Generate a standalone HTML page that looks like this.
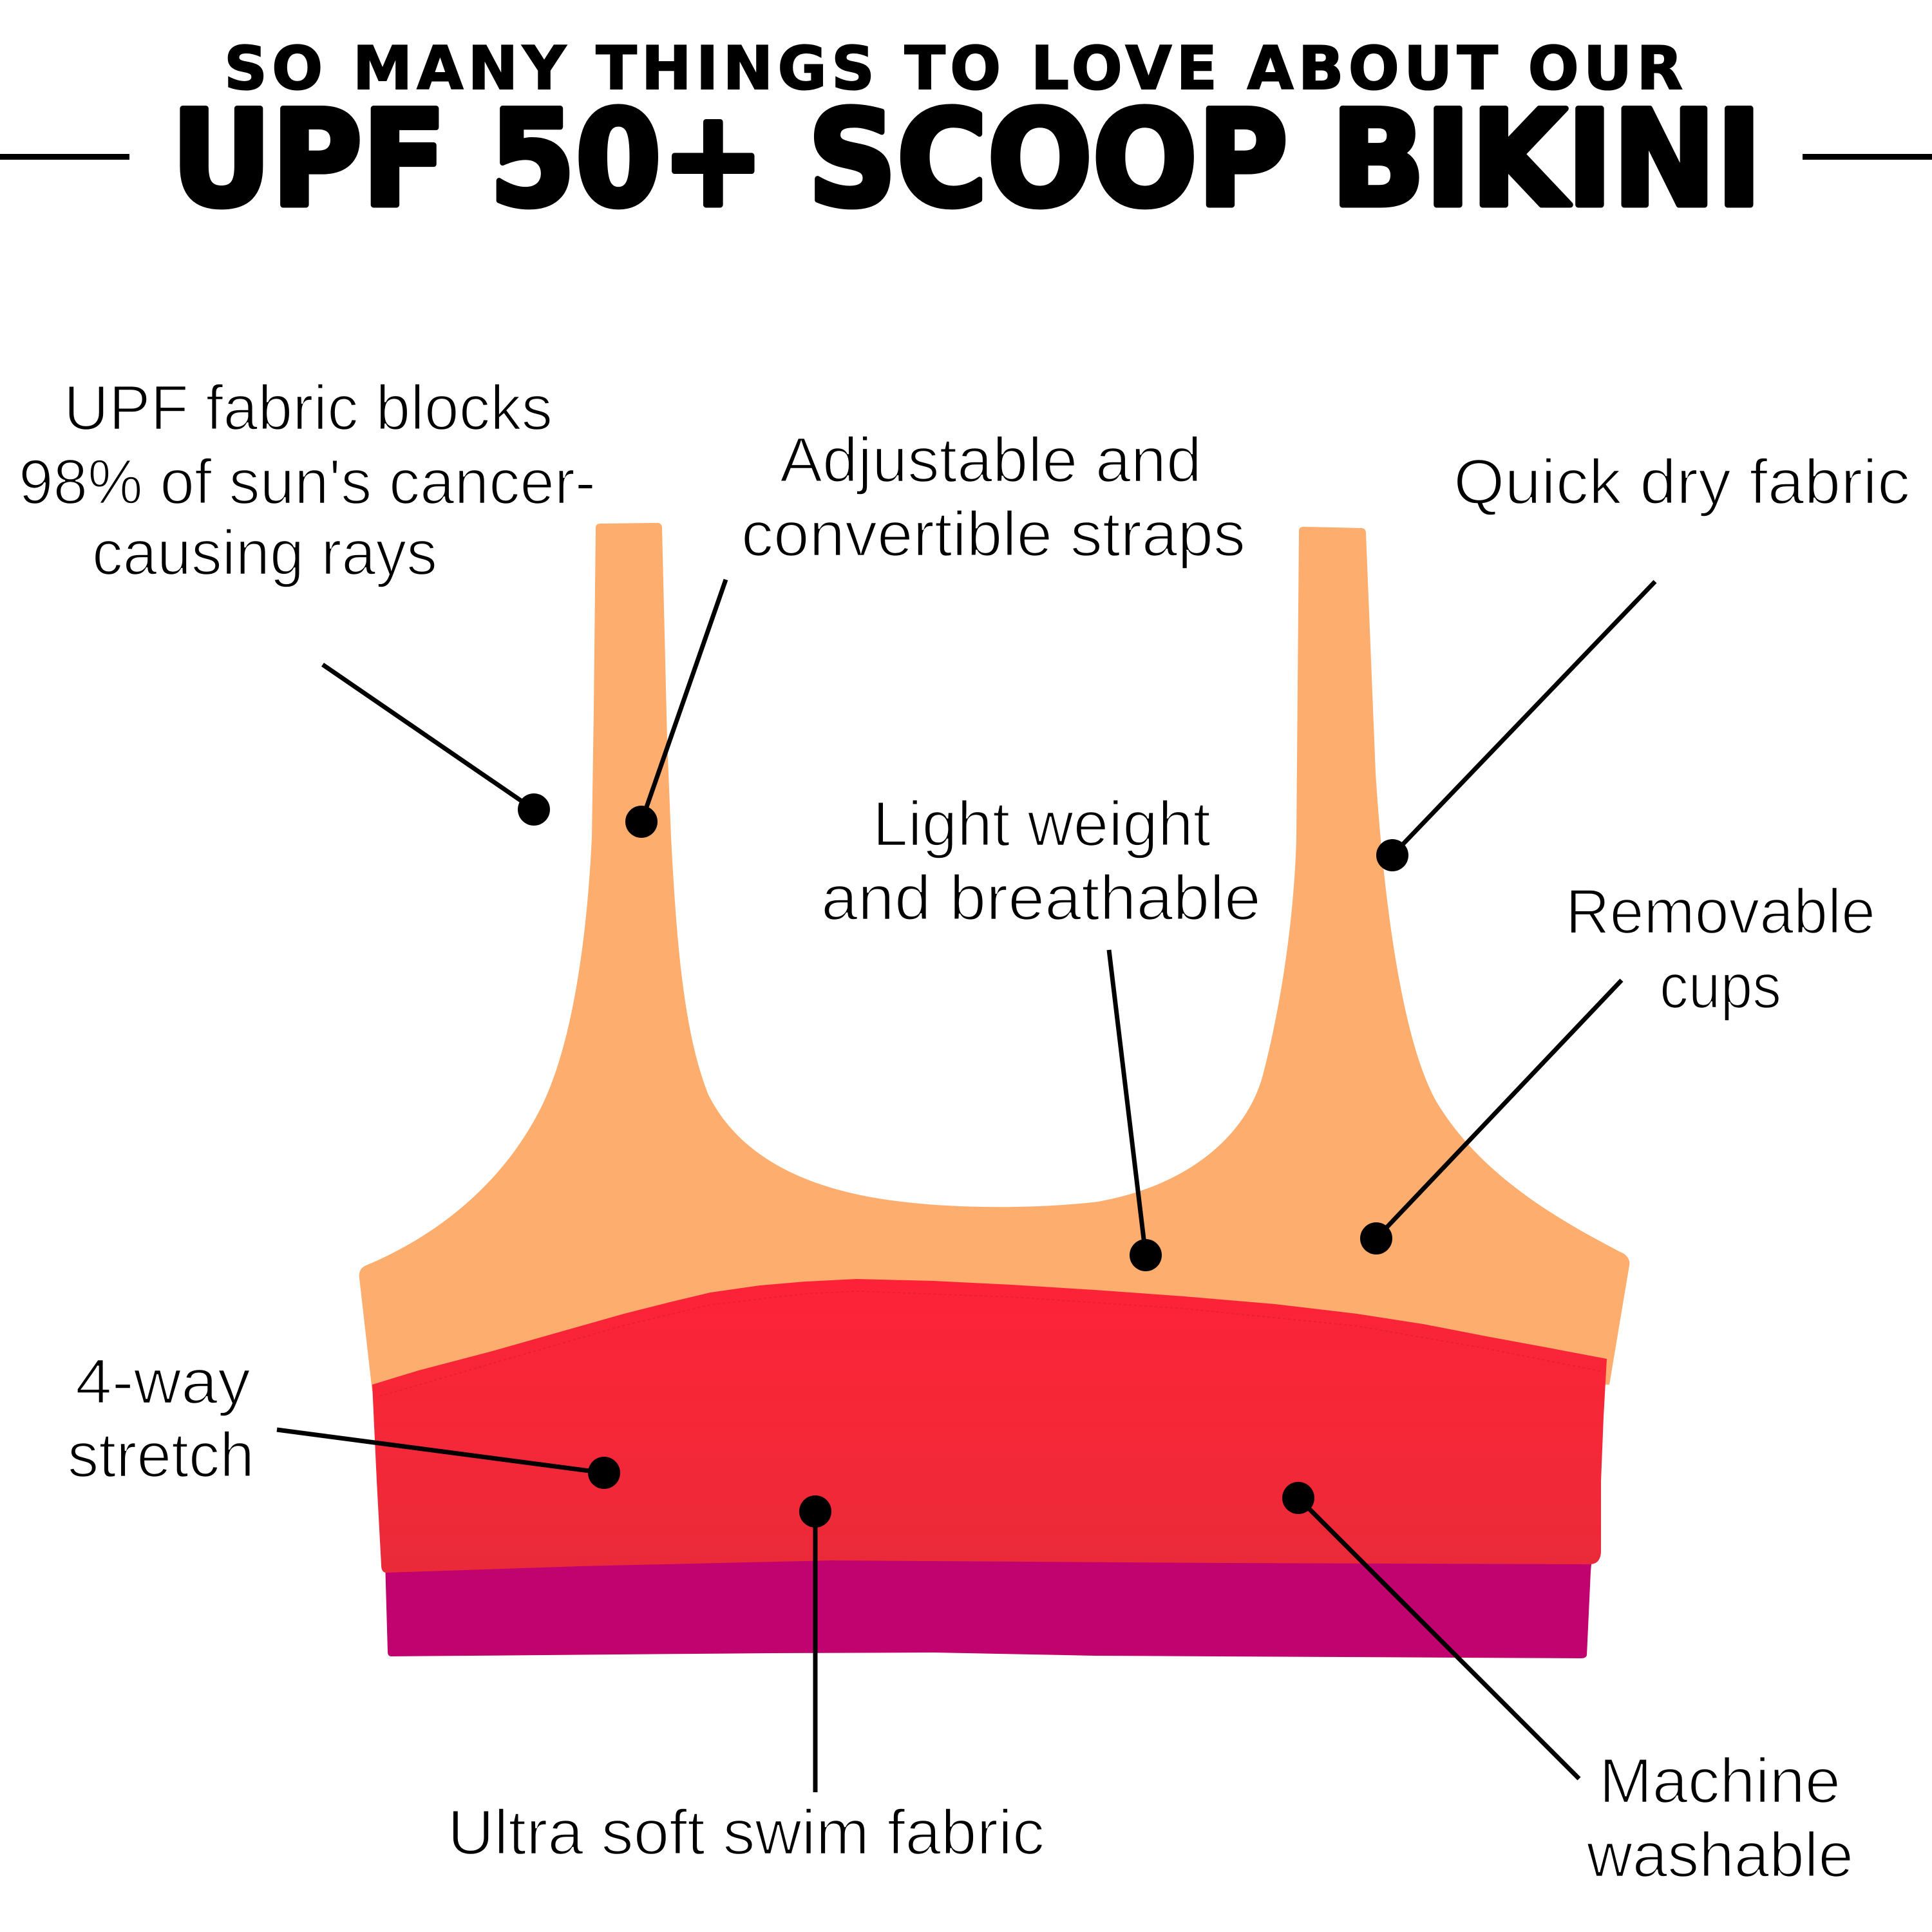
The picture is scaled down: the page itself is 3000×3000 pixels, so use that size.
<!DOCTYPE html>
<html>
<head>
<meta charset="utf-8">
<style>
  html,body{margin:0;padding:0;background:#fff;}
  svg{display:block;}
  .lbl{font-family:"Liberation Sans","DejaVu Sans",sans-serif;font-size:98px;fill:#000;stroke:#fff;stroke-width:2.5px;}
  .t1{font-family:"DejaVu Sans","Liberation Sans",sans-serif;font-weight:bold;font-size:93px;fill:#000;stroke:#000;stroke-width:2px;}
  .t2{font-family:"DejaVu Sans","Liberation Sans",sans-serif;font-weight:bold;font-size:205px;fill:#000;stroke:#000;stroke-width:9px;stroke-linejoin:round;}
</style>
</head>
<body>
<svg width="3000" height="3000" viewBox="0 0 3000 3000" xmlns="http://www.w3.org/2000/svg">
  <defs>
    <linearGradient id="redg" x1="0" y1="1990" x2="0" y2="2440" gradientUnits="userSpaceOnUse">
      <stop offset="0" stop-color="#FD2238"/>
      <stop offset="0.45" stop-color="#F62737"/>
      <stop offset="1" stop-color="#EA2A39"/>
    </linearGradient>
  </defs>
  <rect x="0" y="0" width="3000" height="3000" fill="#fff"/>

  <!-- Title -->
  <text class="t1" x="348" y="138" textLength="2265" lengthAdjust="spacing">SO MANY THINGS TO LOVE ABOUT OUR</text>
  <text class="t2" x="266" y="318" textLength="2470" lengthAdjust="spacingAndGlyphs">UPF 50+ SCOOP BIKINI</text>
  <rect x="0" y="239" width="201" height="9" fill="#000"/>
  <rect x="2799" y="239" width="201" height="9" fill="#000"/>

  <!-- Magenta band -->
  <path fill="#C0036F" d="M 598,2425 L 2472,2418 L 2470,2440 L 2464,2570 Q 2463,2575 2455,2575 L 1700,2571 L 1450,2566 L 1200,2567 L 608,2572 Q 602,2572 602,2565 Z"/>

  <!-- Orange top -->
  <path fill="#FDAD6D" d="M 925,820 Q 925,813 932,813 L 1022,812 Q 1028,813 1028,820
    L 1036,1150 L 1042,1300
    C 1050,1450 1060,1600 1100,1700
    C 1150,1800 1260,1850 1400,1866
    C 1500,1878 1620,1876 1705,1866
    C 1850,1840 1935,1760 1960,1673
    C 1990,1560 2010,1420 2013,1300
    L 2017,825 Q 2017,818 2024,818 L 2115,820 Q 2121,821 2121,828
    L 2136,1200
    C 2150,1420 2180,1620 2230,1710
    C 2290,1810 2390,1880 2522,1947
    Q 2532,1955 2530,1965 L 2499,2150 L 578,2160 L 558,1985 Q 556,1972 566,1966
    C 700,1910 790,1820 840,1720
    C 890,1620 912,1450 919,1300
    L 922,1100 Z"/>

  <!-- Red band -->
  <path fill="url(#redg)" d="M 578,2150 L 650,2128 L 768,2097 L 870,2068 L 969,2040 L 1040,2022 L 1103,2007
    L 1180,1996 L 1250,1990 L 1330,1986 L 1450,1989 L 1571,1995 L 1700,2003 L 1839,2013 L 1980,2025 L 2107,2040
    L 2210,2056 L 2308,2075 L 2400,2092 L 2495,2110 L 2490,2200 L 2486,2300 L 2486,2410 Q 2485,2428 2470,2429
    L 1900,2427 L 1290,2423 L 900,2432 L 600,2442 Q 592,2442 592,2430 L 585,2300 Z"/>
  <path fill="none" stroke="#E01A2E" stroke-width="2" stroke-dasharray="4 4" opacity="0.6"
    d="M 590,2168 L 768,2116 L 969,2058 L 1103,2026 L 1250,2009 L 1330,2005 L 1571,2014 L 1839,2032 L 2107,2059 L 2308,2094 L 2490,2130"/>

  <!-- Connectors -->
  <g stroke="#000" stroke-width="7" fill="none" stroke-linecap="butt">
    <line x1="501" y1="1032" x2="829" y2="1257"/>
    <line x1="1127" y1="900" x2="996" y2="1276"/>
    <line x1="2570" y1="903" x2="2162" y2="1328"/>
    <line x1="1722" y1="1475" x2="1779" y2="1949"/>
    <line x1="2518" y1="1522" x2="2137" y2="1923"/>
    <line x1="430" y1="2220" x2="938" y2="2287"/>
    <line x1="1266" y1="2347" x2="1266" y2="2783"/>
    <line x1="2016" y1="2326" x2="2452" y2="2762"/>
  </g>
  <g fill="#000">
    <circle cx="829" cy="1257" r="25"/>
    <circle cx="996" cy="1276" r="25"/>
    <circle cx="2162" cy="1328" r="25"/>
    <circle cx="1779" cy="1949" r="25"/>
    <circle cx="2137" cy="1923" r="25"/>
    <circle cx="938" cy="2287" r="25"/>
    <circle cx="1266" cy="2347" r="25"/>
    <circle cx="2016" cy="2326" r="25"/>
  </g>

  <!-- Labels -->
  <text class="lbl" x="99" y="667" textLength="759" lengthAdjust="spacingAndGlyphs">UPF fabric blocks</text>
  <text class="lbl" x="29" y="782" textLength="896" lengthAdjust="spacingAndGlyphs">98% of sun's cancer-</text>
  <text class="lbl" x="143" y="892" textLength="536" lengthAdjust="spacingAndGlyphs">causing rays</text>

  <text class="lbl" x="1211" y="748" textLength="655" lengthAdjust="spacingAndGlyphs">Adjustable and</text>
  <text class="lbl" x="1151" y="863" textLength="783" lengthAdjust="spacingAndGlyphs">convertible straps</text>

  <text class="lbl" x="2257" y="782" textLength="709" lengthAdjust="spacingAndGlyphs">Quick dry fabric</text>

  <text class="lbl" x="1355" y="1313" textLength="525" lengthAdjust="spacingAndGlyphs">Light weight</text>
  <text class="lbl" x="1275" y="1428" textLength="683" lengthAdjust="spacingAndGlyphs">and breathable</text>

  <text class="lbl" x="2431" y="1449" textLength="481" lengthAdjust="spacingAndGlyphs">Removable</text>
  <text class="lbl" x="2577" y="1565" textLength="189" lengthAdjust="spacingAndGlyphs">cups</text>

  <text class="lbl" x="117" y="2179" textLength="272" lengthAdjust="spacingAndGlyphs">4-way</text>
  <text class="lbl" x="105" y="2293" textLength="290" lengthAdjust="spacingAndGlyphs">stretch</text>

  <text class="lbl" x="695" y="2879" textLength="927" lengthAdjust="spacingAndGlyphs">Ultra soft swim fabric</text>

  <text class="lbl" x="2483" y="2799" textLength="375" lengthAdjust="spacingAndGlyphs">Machine</text>
  <text class="lbl" x="2464" y="2914" textLength="414" lengthAdjust="spacingAndGlyphs">washable</text>
</svg>
</body>
</html>
